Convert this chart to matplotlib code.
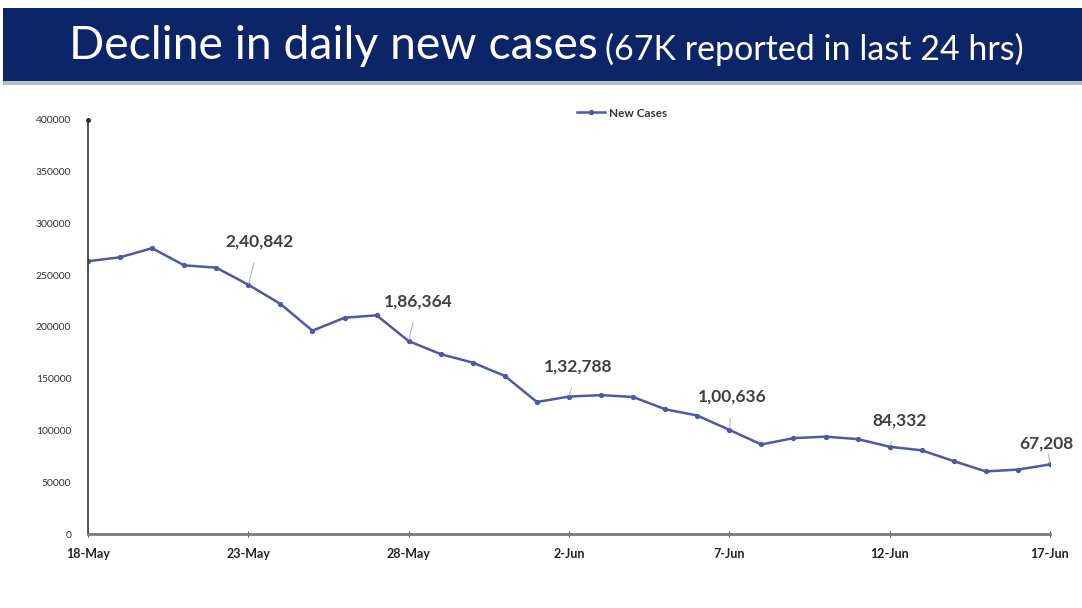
import matplotlib
matplotlib.use('Agg')
from matplotlib import pyplot as plt
from matplotlib.patches import Rectangle

# daily new cases, 18-May .. 17-Jun
dates = ['18-May', '19-May', '20-May', '21-May', '22-May', '23-May', '24-May', '25-May',
         '26-May', '27-May', '28-May', '29-May', '30-May', '31-May', '1-Jun', '2-Jun',
         '3-Jun', '4-Jun', '5-Jun', '6-Jun', '7-Jun', '8-Jun', '9-Jun', '10-Jun',
         '11-Jun', '12-Jun', '13-Jun', '14-Jun', '15-Jun', '16-Jun', '17-Jun']
new_cases = [263533, 267334, 276110, 259551, 257299, 240842, 222315, 196427,
             208921, 211298, 186364, 173790, 165553, 152734, 127510, 132788,
             134154, 132364, 120529, 114460, 100636, 86498, 92596, 94052,
             91702, 84332, 80834, 70421, 60471, 62224, 67208]

label_idx = [5, 10, 15, 20, 25, 30]
label_txt = ['2,40,842', '1,86,364', '1,32,788', '1,00,636', '84,332', '67,208']
label_pos = [(5.36, 283000), (10.29, 225000), (15.28, 161500), (20.1, 132700), (25.3, 109600), (29.9, 87500)]

tick_idx = [0, 5, 10, 15, 20, 25, 30]
yticks = [0, 50000, 100000, 150000, 200000, 250000, 300000, 350000, 400000]

plt.rcParams['font.family'] = ['Lato', 'DejaVu Sans']

fig = plt.figure(figsize=(10.82, 6.08), dpi=100)

# header band
fig.patches.append(Rectangle((0.003, 0.865), 0.997, 0.122, transform=fig.transFigure,
                             facecolor='#0c2468', edgecolor='none'))
fig.patches.append(Rectangle((0.003, 0.860), 0.997, 0.006, transform=fig.transFigure,
                             facecolor='#b9bcc4', edgecolor='none'))
fig.text(0.064, 0.924, 'Decline in daily new cases', color='white', fontsize=33.3,
         va='center', ha='left')
fig.text(0.559, 0.918, '(67K reported in last 24 hrs)', color='white', fontsize=24.5,
         va='center', ha='left')

ax = fig.add_axes([0.0813, 0.1217, 0.8891, 0.681])
x = list(range(len(dates)))
ax.plot(x, new_cases, color='#4a5aa6', lw=1.8, marker='o', ms=2.8, label='New Cases')

for i, t, p in zip(label_idx, label_txt, label_pos):
    ax.annotate(t, xy=(i, new_cases[i]), xytext=p, ha='center', va='center',
                fontsize=12.5, fontweight='bold', color='#404040',
                arrowprops=dict(arrowstyle='-', color='#b8b8b8', lw=0.8, shrinkA=8, shrinkB=1),
                annotation_clip=False)

ax.set_xlim(0, 30)
ax.set_ylim(0, 400000)
ax.set_yticks(yticks)
ax.set_yticklabels([str(v) for v in yticks], fontsize=7.5, color='#333333')
ax.set_xticks(tick_idx)
ax.set_xticklabels([dates[i] for i in tick_idx], fontsize=9, fontweight='bold', color='#222222')
ax.tick_params(axis='y', length=0, pad=12)
ax.tick_params(axis='x', length=4, direction='inout', color='#555555', pad=8)

for s in ['top', 'right']:
    ax.spines[s].set_visible(False)
ax.spines['left'].set_color('#333333')
ax.spines['left'].set_linewidth(1.2)
ax.spines['bottom'].set_color('#7a7a7a')
ax.spines['bottom'].set_linewidth(2)
ax.plot([0], [400000], marker='o', ms=2.5, color='#222222', clip_on=False)

leg = ax.legend(loc='center', bbox_to_anchor=(0.575, 0.814), bbox_transform=fig.transFigure,
                frameon=False, fontsize=8.5, handlelength=2.4, handletextpad=0.3)
for txt in leg.get_texts():
    txt.set_fontweight('bold')
    txt.set_color('#333333')

fig.savefig('out.png', dpi=100)
